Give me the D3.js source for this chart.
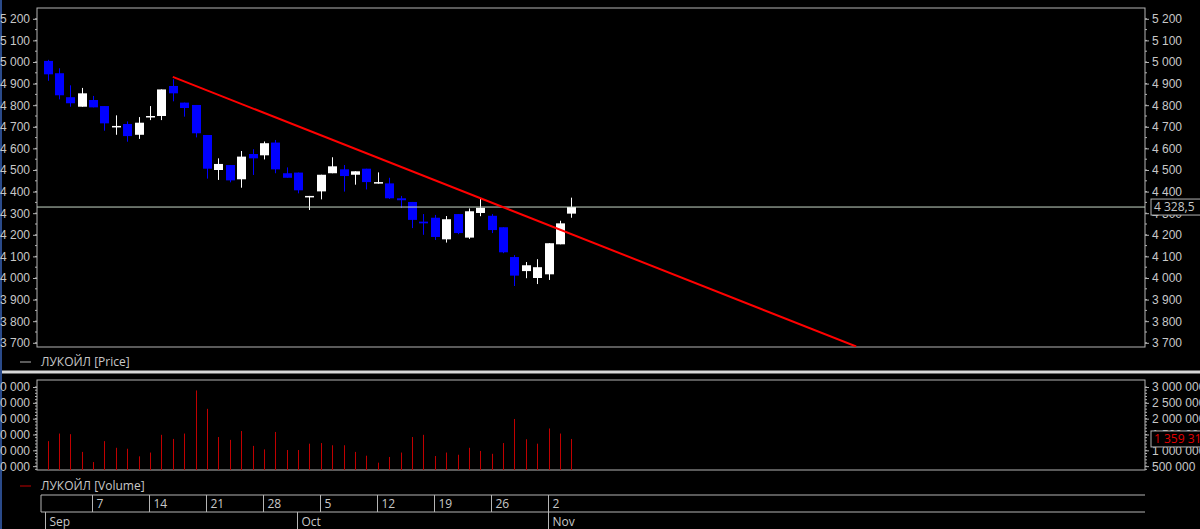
<!DOCTYPE html>
<html><head><meta charset="utf-8">
<script src="https://cdn.jsdelivr.net/npm/d3@7"></script>
<style>body{margin:0;background:#000}svg{display:block;font-family:"Segoe UI","Open Sans",sans-serif}</style>
</head><body><svg id="chart" width="1200" height="529"></svg>
<script>
// daily candles, Sep 1 .. Nov 4 (trading days)
const opens  = [5005,4948,4837,4793,4824,4796,4698,4713,4663,4744,4750,4889,4812,4801,4662,4500,4523,4457,4574,4568,4627,4485,4488,4377,4401,4485,4503,4478,4506,4437,4438,4369,4352,4261,4279,4179,4296,4187,4301,4288,4235,4097,4032,4000,4017,4156,4298];
const highs  = [5010,4971,4892,4880,4843,4796,4753,4725,4745,4796,4873,4920,4812,4801,4662,4554,4523,4588,4596,4632,4639,4512,4488,4380,4478,4559,4523,4494,4506,4489,4464,4380,4352,4296,4292,4287,4296,4322,4369,4296,4235,4106,4074,4087,4161,4265,4372];
const lows   = [4913,4827,4793,4793,4790,4682,4663,4631,4644,4731,4731,4818,4747,4651,4460,4454,4443,4418,4477,4549,4485,4464,4392,4315,4364,4485,4400,4432,4410,4437,4366,4324,4231,4200,4176,4164,4203,4181,4286,4208,4115,3963,3999,3972,3991,4156,4279];
const closes = [4943,4846,4809,4855,4790,4716,4704,4657,4719,4750,4873,4855,4787,4670,4506,4528,4452,4562,4554,4624,4503,4464,4406,4380,4478,4517,4472,4494,4444,4444,4369,4360,4269,4253,4190,4272,4208,4309,4325,4222,4119,4011,4059,4050,4161,4253,4328.5];
const volumes = [1290000,1530000,1510000,950000,630000,1290000,1080000,1050000,810000,930000,1490000,1360000,1530000,2890000,2310000,1420000,1330000,1610000,1140000,1030000,1580000,1010000,1010000,1210000,1230000,1160000,1160000,950000,830000,610000,790000,930000,1420000,1490000,820000,930000,860000,1080000,980000,890000,1230000,1990000,1350000,1210000,1690000,1530000,1359314];
const priceTicks = [3700,3800,3900,4000,4100,4200,4300,4400,4500,4600,4700,4800,4900,5000,5100,5200];
const volTicks = [500000,1000000,1500000,2000000,2500000,3000000];
const trend = [{i: 11, p: 4931}, {i: 71, p: 3683}];
const lastPrice = 4328.5, lastVol = 1359314;
const weekLabels = ["7","14","21","28","5","12","19","26","2"];
const monthLabels = ["Sep","Oct","Nov"];

const dates = d3.timeDay.range(new Date(2020,8,1), new Date(2020,10,5)).filter(d => d.getDay() % 6 != 0);

const svg = d3.select('#chart');
const fmt = v => d3.format(",")(v).replace(/,/g, ' ');
const grey = '#b4b4b4', txt = '#c8c8c8';

const L = 37, R = 1145;
const x = d3.scaleLinear().domain([0, 46]).range([47.5, 571.4]);
const y = d3.scaleLinear().domain([4000, 5000]).range([278, 62]);
const yv = d3.scaleLinear().domain([0, 3000000]).range([482, 387]);

// frames
svg.append('rect').attr('x', L).attr('y', 8).attr('width', R - L).attr('height', 339)
  .attr('fill', 'none').attr('stroke', grey);
svg.append('rect').attr('x', L).attr('y', 380).attr('width', R - L).attr('height', 90)
  .attr('fill', 'none').attr('stroke', grey);
svg.append('line').attr('x1', 0).attr('x2', 1200).attr('y1', 372).attr('y2', 372)
  .attr('stroke', '#d8d8d8').attr('stroke-width', 3);
svg.append('line').attr('x1', 1).attr('x2', 1).attr('y1', 0).attr('y2', 529).attr('stroke', '#2a4a8a').attr('stroke-width', 2);

svg.append('defs').append('clipPath').attr('id', 'pc').append('rect')
  .attr('x', L).attr('y', 8).attr('width', R - L).attr('height', 339);

// price axes
let leftAx = svg.append('g').attr('transform', `translate(${L},0)`)
  .call(d3.axisLeft(y).tickValues(priceTicks).tickFormat(fmt).tickSize(4));
let rightAx = svg.append('g').attr('transform', `translate(${R},0)`)
  .call(d3.axisRight(y).tickValues(priceTicks).tickFormat(fmt).tickSize(4));
const minorP = d3.range(3700, 5201, 50);
[[leftAx, -2], [rightAx, 2]].forEach(([g, s]) => {
  g.selectAll('.mn').data(minorP).enter().append('line')
    .attr('x1', 0).attr('x2', s).attr('y1', d => y(d)).attr('y2', d => y(d)).attr('stroke', grey);
});

// volume axes
let vLeft = svg.append('g').attr('transform', `translate(${L},0)`)
  .call(d3.axisLeft(yv).tickValues(volTicks).tickFormat(fmt).tickSize(4));
let vRight = svg.append('g').attr('transform', `translate(${R},0)`)
  .call(d3.axisRight(yv).tickValues(volTicks).tickFormat(fmt).tickSize(4));
const minorV = d3.range(400000, 3000001, 100000);
[[vLeft, -2], [vRight, 2]].forEach(([g, s]) => {
  g.selectAll('.mn').data(minorV).enter().append('line')
    .attr('x1', 0).attr('x2', s).attr('y1', d => yv(d)).attr('y2', d => yv(d)).attr('stroke', grey);
});
svg.selectAll('.domain').remove();
svg.selectAll('.tick line').attr('stroke', grey);
svg.selectAll('.tick text').attr('fill', txt).style('font-size', '12px');

// candles
const cg = svg.append('g').attr('clip-path', 'url(#pc)');
const idx = d3.range(opens.length);
cg.selectAll('.wick').data(idx).enter().append('line')
  .attr('x1', i => Math.round(x(i)) + 0.5).attr('x2', i => Math.round(x(i)) + 0.5)
  .attr('y1', i => y(highs[i])).attr('y2', i => y(lows[i]))
  .attr('stroke', i => closes[i] >= opens[i] ? '#fff' : '#0000ff');
cg.selectAll('.body').data(idx).enter().append('rect')
  .attr('x', i => Math.round(x(i)) - 4).attr('width', 9)
  .attr('y', i => y(Math.max(opens[i], closes[i])))
  .attr('height', i => Math.max(1.5, Math.abs(y(opens[i]) - y(closes[i]))))
  .attr('fill', i => closes[i] >= opens[i] ? '#fff' : '#0000ff');

// last price line
cg.append('line').attr('x1', L).attr('x2', R).attr('y1', y(lastPrice)).attr('y2', y(lastPrice))
  .attr('stroke', '#c8d8c8');
// trend line
cg.append('line').attr('x1', x(trend[0].i)).attr('y1', y(trend[0].p))
  .attr('x2', x(trend[1].i)).attr('y2', y(trend[1].p))
  .attr('stroke', '#ff0000').attr('stroke-width', 2);

function badge(v, yy, color) {
  svg.append('rect').attr('x', R + 6).attr('y', yy - 8).attr('width', 50).attr('height', 16)
    .attr('fill', '#000').attr('stroke', grey);
  svg.append('text').attr('x', R + 9).attr('y', yy + 4).attr('fill', color)
    .style('font-size', '12px').text(v);
}
badge(fmt(lastPrice).replace('.', ','), y(lastPrice), txt);
badge(fmt(lastVol), yv(lastVol), '#e00000');

// volume bars
svg.selectAll('.vol').data(idx).enter().append('line')
  .attr('x1', i => Math.round(x(i)) + 0.5).attr('x2', i => Math.round(x(i)) + 0.5)
  .attr('y1', 470).attr('y2', i => yv(volumes[i]))
  .attr('stroke', '#c00000');

// legends
function legend(t, yy, color) {
  svg.append('line').attr('x1', 20).attr('x2', 31).attr('y1', yy - 4).attr('y2', yy - 4).attr('stroke', color);
  svg.append('text').attr('x', 41).attr('y', yy).attr('fill', txt).style('font-size', '12px').text(t);
}
legend('ЛУКОЙЛ [Price]', 366, grey);
legend('ЛУКОЙЛ [Volume]', 490, '#c00000');

// date axis
[495, 512].forEach(yy => svg.append('line').attr('x1', L + 4).attr('x2', R).attr('y1', yy).attr('y2', yy).attr('stroke', grey));
svg.append('line').attr('x1', 41).attr('x2', 41).attr('y1', 495).attr('y2', 512).attr('stroke', grey);
const mondays = idx.filter(i => dates[i].getDay() == 1);
mondays.forEach((i, k) => {
  const xx = Math.round(x(i)) - 0.5;
  svg.append('line').attr('x1', xx).attr('x2', xx).attr('y1', 495).attr('y2', 512).attr('stroke', grey);
  svg.append('text').attr('x', xx + 4).attr('y', 508).attr('fill', txt).style('font-size', '12px').text(weekLabels[k]);
});
const firsts = idx.filter(i => i == 0 || dates[i].getMonth() != dates[i - 1].getMonth());
firsts.forEach((i, k) => {
  const xx = i == 0 ? 45.5 : Math.round(x(i)) - 0.5;
  svg.append('line').attr('x1', xx).attr('x2', xx).attr('y1', 512).attr('y2', 529).attr('stroke', grey);
  svg.append('text').attr('x', xx + 4).attr('y', 526).attr('fill', txt).style('font-size', '12px').text(monthLabels[k]);
});
</script></body></html>
